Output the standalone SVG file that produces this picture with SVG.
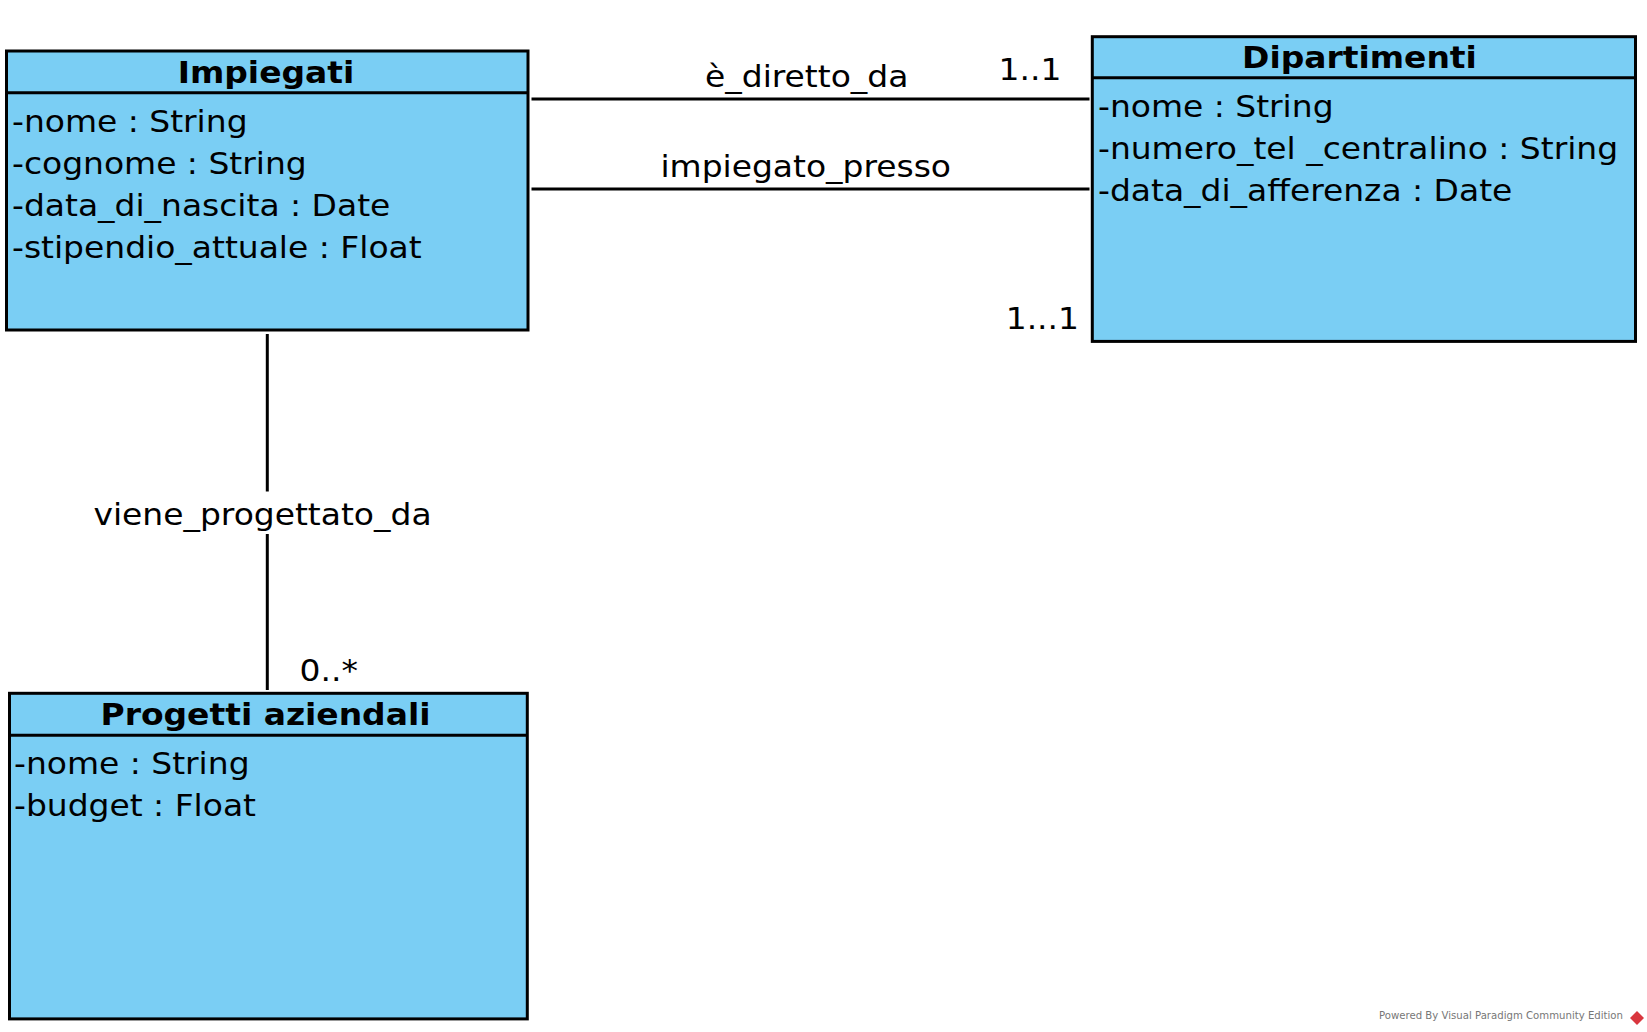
<svg xmlns="http://www.w3.org/2000/svg" width="1647" height="1032" viewBox="0 0 1647 1032">
<style>
.box{fill:#7ACEF4;stroke:#000;stroke-width:3}
.sep{stroke:#000;stroke-width:3}
.ln{stroke:#000;stroke-width:3;fill:none}
.t{font-family:"DejaVu Sans",Verdana,sans-serif;font-size:30.5px;fill:#000}
.b{font-weight:bold}
.m{text-anchor:middle}
.e{text-anchor:end}
.pw{font-family:"DejaVu Sans",Verdana,sans-serif;font-size:9.6px;fill:#777}
</style>
<rect width="1647" height="1032" fill="#fff"/>
<g id="connectors">
<line class="ln" x1="531.5" y1="99" x2="1089.5" y2="99"/>
<line class="ln" x1="531.5" y1="189" x2="1089.5" y2="189"/>
<line class="ln" x1="267.3" y1="334" x2="267.3" y2="491.5"/>
<line class="ln" x1="267.3" y1="534" x2="267.3" y2="690"/>
<text class="t m" transform="translate(806.7,86.5) scale(1.08,1)">è_diretto_da</text>
<text class="t" transform="translate(998.5,80) scale(1.08,1)">1..1</text>
<text class="t m" transform="translate(805.7,176.7) scale(1.08,1)">impiegato_presso</text>
<text class="t e" transform="translate(1079,329) scale(1.08,1)">1...1</text>
<text class="t m" transform="translate(262.5,525) scale(1.08,1)">viene_progettato_da</text>
<text class="t" transform="translate(299.5,680.7) scale(1.08,1)">0..*</text>
</g>
<g id="impiegati">
<rect class="box" x="6.5" y="51" width="521.5" height="279"/>
<line class="sep" x1="6.5" y1="92.7" x2="528" y2="92.7"/>
<text class="t b m" transform="translate(266,82.5) scale(1.08,1)">Impiegati</text>
<text class="t" transform="translate(12,131.7) scale(1.08,1)">-nome : String</text>
<text class="t" transform="translate(12,173.7) scale(1.08,1)">-cognome : String</text>
<text class="t" transform="translate(12,215.7) scale(1.08,1)">-data_di_nascita : Date</text>
<text class="t" transform="translate(12,257.7) scale(1.08,1)">-stipendio_attuale : Float</text>
</g>
<g id="dipartimenti">
<rect class="box" x="1092.3" y="36.7" width="543.2" height="304.7"/>
<line class="sep" x1="1092.3" y1="77.7" x2="1635.5" y2="77.7"/>
<text class="t b m" transform="translate(1359.5,68) scale(1.08,1)">Dipartimenti</text>
<text class="t" transform="translate(1098,116.7) scale(1.08,1)">-nome : String</text>
<text class="t" transform="translate(1098,158.7) scale(1.08,1)">-numero_tel _centralino : String</text>
<text class="t" transform="translate(1098,200.7) scale(1.08,1)">-data_di_afferenza : Date</text>
</g>
<g id="progetti">
<rect class="box" x="9.5" y="693.3" width="517.8" height="325.6"/>
<line class="sep" x1="9.5" y1="735.3" x2="527.3" y2="735.3"/>
<text class="t b m" transform="translate(265.5,725) scale(1.08,1)">Progetti aziendali</text>
<text class="t" transform="translate(14,774.3) scale(1.08,1)">-nome : String</text>
<text class="t" transform="translate(14,816.3) scale(1.08,1)">-budget : Float</text>
</g>
<g id="watermark">
<text class="pw" x="1379" y="1019" textLength="244" lengthAdjust="spacingAndGlyphs">Powered By Visual Paradigm Community Edition</text>
<polygon points="1637,1011 1644,1018 1637,1025 1630,1018" fill="#d9363e"/>
</g>
</svg>
